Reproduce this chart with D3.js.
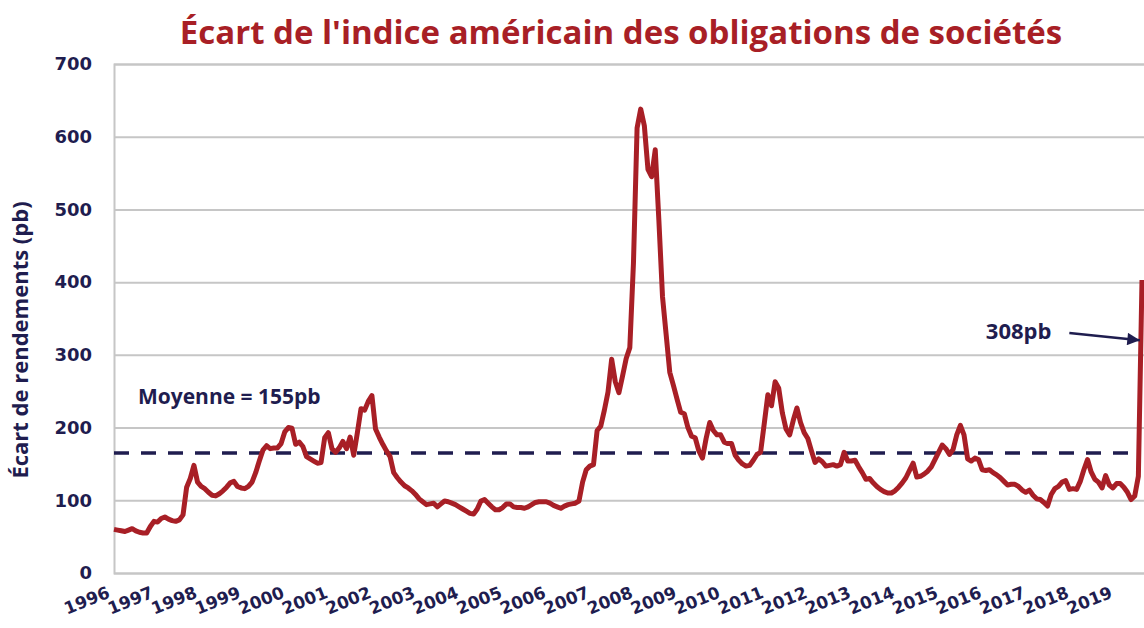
<!DOCTYPE html>
<meta charset="utf-8">
<title>Écart de l'indice américain des obligations de sociétés</title>
<style>
body {
  margin: 0;
  background: #fff;
}
svg text {
  fill: #1f1d4f;
}
</style>
<body></body>
<script src="https://d3js.org/d3.v7.min.js"></script>
<script>
// monthly spread (pb), Jan 1996 onwards
var spread = [
  60, 59, 58, 57, 59, 61, 58, 56, 55, 55, 64, 71,
  70, 75, 77, 74, 72, 71, 73, 80, 118, 130, 148, 125,
  119, 116, 111, 107, 106, 109, 113, 118, 124, 126, 119, 117,
  116, 119, 125, 138, 154, 169, 175, 171, 172, 172, 178, 194,
  200, 199, 177, 180, 174, 160, 157, 154, 151, 152, 186, 193,
  171, 166, 172, 181, 171, 187, 162, 193, 226, 224, 236, 244,
  198, 187, 177, 168, 160, 138, 131, 125, 120, 117, 113, 108,
  102, 98, 94, 95, 96, 91, 95, 99, 98, 96, 94, 91,
  88, 85, 82, 81, 88, 99, 101, 96, 91, 87, 87, 90,
  95, 95, 91, 90, 90, 89, 91, 94, 97, 98, 98, 98,
  96, 93, 91, 89, 92, 94, 95, 96, 99, 125, 142, 147,
  149, 196, 202, 224, 249, 294, 263, 248, 271, 295, 310, 426,
  612, 638, 615, 555, 545, 582, 485, 380, 328, 276, 258, 239,
  221, 219, 200, 188, 186, 168, 158, 185, 207, 196, 190, 190,
  180, 178, 178, 162, 155, 150, 147, 148, 155, 163, 166, 205,
  245, 230, 263, 254, 220, 198, 190, 210, 227, 207, 193, 185,
  168, 152, 157, 153, 147, 148, 149, 147, 149, 166, 154, 154,
  155, 146, 138, 129, 130, 124, 119, 115, 112, 110, 110, 113,
  118, 124, 131, 141, 151, 132, 133, 136, 140, 146, 156, 166,
  176, 171, 163, 170, 190, 203, 190, 157, 154, 158, 156, 142,
  141, 142, 138, 135, 131, 126, 121, 122, 122, 119, 114, 111,
  114, 107, 102, 101, 97, 92, 108, 116, 119, 125, 127, 115,
  116, 115, 126, 142, 156, 139, 129, 125, 117, 134, 121, 117,
  123, 123, 118, 111, 101, 106, 133, 403
];

var years = d3.range(1996, 2020);
var yTicks = [0, 100, 200, 300, 400, 500, 600, 700];
var meanLevel = 165;

var width = 1144, height = 628;
var margin = {top: 64, right: 2, bottom: 55, left: 114};

var red = '#a81f26',
    navy = '#1f1d4f',
    gridColor = '#c6c6c6';

var svg = d3.select('body').append('svg')
  .attr('width', width)
  .attr('height', height);

var x = d3.scaleLinear()
  .domain([0, spread.length - 1])
  .range([margin.left, width - margin.right]);

var y = d3.scaleLinear()
  .domain([0, 700])
  .range([height - margin.bottom, margin.top]);

// title
svg.append('text')
  .attr('x', 621)
  .attr('y', 44)
  .attr('text-anchor', 'middle')
  .style('font-family', 'Open Sans')
  .style('font-weight', 700)
  .style('font-size', '33px')
  .style('fill', red)
  .text("Écart de l'indice américain des obligations de sociétés");

// gridlines
svg.append('g')
  .attr('transform', 'translate(' + margin.left + ',0)')
  .call(d3.axisLeft(y).tickValues(yTicks).tickSize(-(width - margin.left)).tickFormat(''))
  .call(function (g) {
    g.select('.domain').attr('stroke', gridColor).attr('stroke-width', 2);
    g.selectAll('.tick line').attr('stroke', gridColor).attr('stroke-width', 2);
  });

// y tick labels
svg.append('g')
  .selectAll('text')
  .data(yTicks)
  .enter()
  .append('text')
  .attr('x', 92)
  .attr('y', function (d) { return y(d); })
  .attr('dy', '0.35em')
  .attr('text-anchor', 'end')
  .style('font-family', 'DejaVu Sans')
  .style('font-weight', 700)
  .style('font-size', '18px')
  .text(function (d) { return d; });

// y title
svg.append('text')
  .attr('transform', 'translate(28,' + 340 + ') rotate(-90)')
  .attr('text-anchor', 'middle')
  .style('font-family', 'Open Sans')
  .style('font-weight', 700)
  .style('font-size', '22px')
  .text('Écart de rendements (pb)');

// year labels
svg.append('g')
  .selectAll('text')
  .data(years)
  .enter()
  .append('text')
  .attr('transform', function (d, i) {
    return 'translate(' + (x(i * 12) - 3) + ',597) rotate(-22)';
  })
  .attr('text-anchor', 'end')
  .style('font-family', 'DejaVu Sans')
  .style('font-weight', 700)
  .style('font-size', '17px')
  .text(function (d) { return d; });

// mean line
svg.append('line')
  .attr('x1', x(0))
  .attr('x2', x(spread.length - 2))
  .attr('y1', y(meanLevel))
  .attr('y2', y(meanLevel))
  .attr('stroke', navy)
  .attr('stroke-width', 3.5)
  .attr('stroke-dasharray', '15,12');

// spread line
svg.append('path')
  .datum(spread)
  .attr('fill', 'none')
  .attr('stroke', red)
  .attr('stroke-width', 5)
  .attr('stroke-linejoin', 'round')
  .attr('d', d3.line()
    .x(function (d, i) { return x(i); })
    .y(function (d) { return y(d); }));

// annotations
svg.append('text')
  .attr('x', x(6.6))
  .attr('y', y(232))
  .style('font-family', 'Open Sans')
  .style('font-weight', 700)
  .style('font-size', '21px')
  .text('Moyenne = 155pb');

svg.append('text')
  .attr('x', x(240))
  .attr('y', y(322))
  .style('font-family', 'Open Sans')
  .style('font-weight', 700)
  .style('font-size', '22px')
  .text('308pb');

svg.append('defs').append('marker')
  .attr('id', 'arrow')
  .attr('viewBox', '0 0 10 10')
  .attr('refX', 10)
  .attr('refY', 5)
  .attr('markerWidth', 6)
  .attr('markerHeight', 5)
  .attr('markerUnits', 'strokeWidth')
  .attr('orient', 'auto')
  .append('path')
  .attr('d', 'M0,0L10,5L0,10z')
  .attr('fill', navy);

svg.append('line')
  .attr('x1', x(263))
  .attr('y1', y(330))
  .attr('x2', x(282.4))
  .attr('y2', y(320))
  .attr('stroke', navy)
  .attr('stroke-width', 2.5)
  .attr('marker-end', 'url(#arrow)');
</script>
